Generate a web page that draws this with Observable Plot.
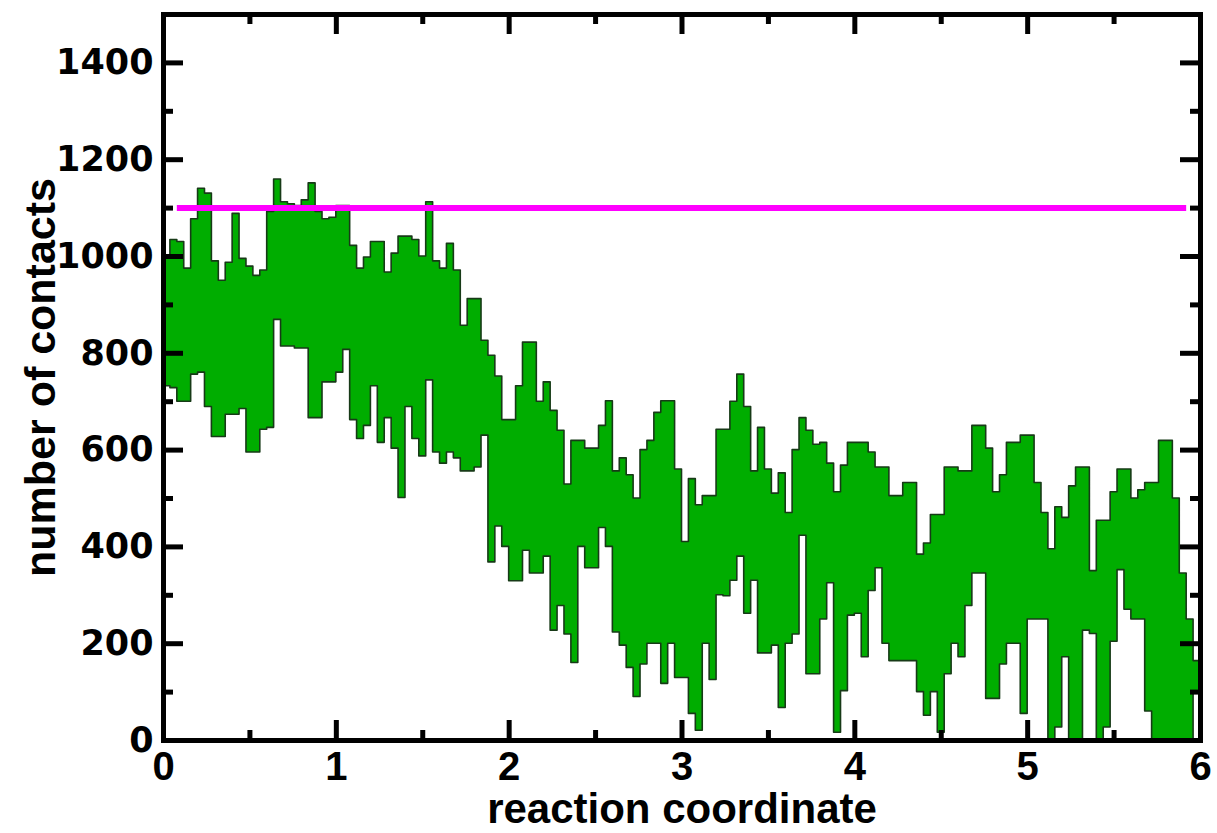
<!DOCTYPE html>
<html>
<head>
<meta charset="utf-8">
<script src="https://cdn.jsdelivr.net/npm/d3@7"></script>
<script src="https://cdn.jsdelivr.net/npm/@observablehq/plot@0.6"></script>
<style>
  html, body { margin: 0; padding: 0; background: #fff; }
  #chart svg { display: block; }
</style>
</head>
<body>
<div id="chart"></div>
<script>
// ---- data ----
const binWidth = 0.04; // reaction-coordinate width of each step
const hiValues = [
  1000, 1034, 1030, 975, 1077, 1140, 1130, 990, 950, 987, 1088, 995, 979, 960, 971, 1092, 1159, 1112, 1108, 1104, 1116, 1151, 1092, 1077, 1080,
  1104, 1104, 1022, 975, 998, 1030, 1030, 967, 1006, 1041, 1041, 1034, 1000, 1112, 990, 975, 1026, 971, 857, 912, 912, 826, 795, 752, 662,
  662, 732, 822, 822, 700, 740, 681, 640, 529, 619, 619, 603, 603, 650, 701, 556, 583, 548, 500, 600, 619, 677, 701, 701, 560,
  410, 540, 486, 505, 505, 642, 642, 700, 756, 689, 556, 646, 560, 510, 552, 470, 600, 666, 640, 611, 615, 572, 513, 568, 615,
  615, 615, 595, 564, 564, 505, 505, 532, 532, 384, 407, 466, 466, 564, 564, 556, 556, 650, 650, 603, 513, 548, 615, 615, 630,
  630, 532, 470, 395, 482, 460, 525, 564, 564, 350, 454, 454, 513, 560, 560, 500, 517, 532, 532, 619, 619, 500, 345, 250, 164
];
const loValues = [
  732, 728, 700, 700, 756, 760, 689, 627, 627, 673, 673, 685, 595, 595, 642, 646, 869, 814, 814, 810, 810, 666, 666, 740, 740,
  760, 807, 662, 623, 650, 732, 615, 666, 603, 501, 689, 623, 587, 744, 595, 572, 595, 583, 556, 556, 564, 630, 368, 442, 400,
  329, 329, 392, 345, 345, 380, 227, 278, 219, 160, 400, 356, 356, 439, 400, 223, 196, 150, 90, 157, 200, 200, 117, 200, 129,
  129, 55, 20, 200, 125, 300, 298, 330, 380, 262, 330, 180, 180, 196, 67, 200, 219, 423, 137, 137, 250, 325, 16, 102, 258,
  262, 172, 309, 356, 200, 164, 164, 164, 164, 100, 51, 100, 16, 137, 200, 172, 278, 345, 345, 86, 86, 157, 200, 200, 55,
  250, 250, 250, 0, 27, 172, 0, 0, 227, 220, 0, 27, 204, 352, 270, 250, 250, 60, 0, 0, 0, 0, 0, 0, 100
];
const referenceLevel = 1100;      // magenta horizontal line
const referenceStart = 0.08;
const referenceEnd = 5.92;
const xMajorTicks = [0, 1, 2, 3, 4, 5, 6];
const xMinorTicks = [0.5, 1.5, 2.5, 3.5, 4.5, 5.5];
const yMajorTicks = [0, 200, 400, 600, 800, 1000, 1200, 1400];
const yMinorTicks = [100, 300, 500, 700, 900, 1100, 1300];
const xTitle = "reaction coordinate";
const yTitle = "number of contacts";

// ---- layout ----
const W = 1217, H = 833;
const mL = 163, mR = 17, mT = 14, mB = 93;
const xDomain = [0, 6], yDomain = [0, 1500];
const pxX = (xDomain[1] - xDomain[0]) / (W - mL - mR); // data units per pixel
const pxY = (yDomain[1] - yDomain[0]) / (H - mT - mB);
const majorLen = 20, minorLen = 10;
const font = "'Liberation Sans', Arial, Helvetica, sans-serif";
const wideFont = "'DejaVu Sans', 'Liberation Sans', Arial, sans-serif";

const band = hiValues.map((h, i) => ({x: i * binWidth, hi: h, lo: loValues[i]}));
band.push({x: xDomain[1], hi: hiValues[hiValues.length - 1], lo: loValues[loValues.length - 1]});

const chart = Plot.plot({
  width: W, height: H,
  marginLeft: mL, marginRight: mR, marginTop: mT, marginBottom: mB,
  x: {domain: xDomain, axis: null},
  y: {domain: yDomain, axis: null},
  style: {fontFamily: font, background: "#fff"},
  marks: [
    Plot.areaY(band, {x: "x", y1: "lo", y2: "hi", curve: "step-after",
      fill: "#00ad00", stroke: "#173a17", strokeWidth: 1.6, clip: true}),
    Plot.ruleY([referenceLevel], {x1: referenceStart, x2: referenceEnd, stroke: "#ff00ff", strokeWidth: 6}),
    // y ticks (inward, left and right)
    Plot.ruleY(yMajorTicks, {x1: xDomain[0], x2: xDomain[0] + majorLen * pxX, stroke: "#000", strokeWidth: 5}),
    Plot.ruleY(yMajorTicks, {x1: xDomain[1] - majorLen * pxX, x2: xDomain[1], stroke: "#000", strokeWidth: 5}),
    Plot.ruleY(yMinorTicks, {x1: xDomain[0], x2: xDomain[0] + minorLen * pxX, stroke: "#000", strokeWidth: 5}),
    Plot.ruleY(yMinorTicks, {x1: xDomain[1] - minorLen * pxX, x2: xDomain[1], stroke: "#000", strokeWidth: 5}),
    // x ticks (inward, bottom and top)
    Plot.ruleX(xMajorTicks, {y1: yDomain[0], y2: yDomain[0] + majorLen * pxY, stroke: "#000", strokeWidth: 5}),
    Plot.ruleX(xMajorTicks, {y1: yDomain[1] - majorLen * pxY, y2: yDomain[1], stroke: "#000", strokeWidth: 5}),
    Plot.ruleX(xMinorTicks, {y1: yDomain[0], y2: yDomain[0] + minorLen * pxY, stroke: "#000", strokeWidth: 5}),
    Plot.ruleX(xMinorTicks, {y1: yDomain[1] - minorLen * pxY, y2: yDomain[1], stroke: "#000", strokeWidth: 5}),
    Plot.frame({stroke: "#000", strokeWidth: 5}),
    // tick labels
    Plot.text(yMajorTicks, {x: xDomain[0], y: d => d, text: d => String(d), textAnchor: "end", dx: -10,
      fontSize: 35, fontWeight: "bold", fontFamily: wideFont, fill: "#000"}),
    Plot.text(xMajorTicks, {x: d => d, y: yDomain[0], text: d => String(d), dy: 27,
      fontSize: 40, fontWeight: "bold", fill: "#000"}),
    // axis titles
    Plot.text([xTitle], {frameAnchor: "bottom", textAnchor: "middle", lineAnchor: "middle", dy: 69,
      text: d => d, fontSize: 42, fontWeight: "bold", fill: "#000"}),
    Plot.text([yTitle], {frameAnchor: "left", textAnchor: "middle", lineAnchor: "middle", dx: -122, rotate: -90,
      text: d => d, fontSize: 43, fontWeight: "bold", fill: "#000"})
  ]
});
document.getElementById("chart").appendChild(chart);
</script>
</body>
</html>
